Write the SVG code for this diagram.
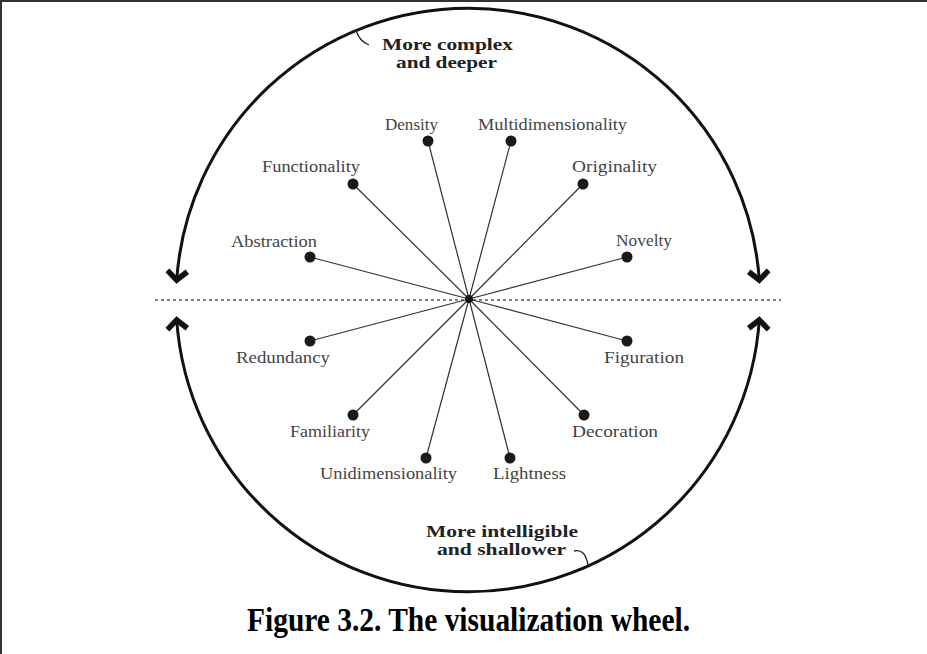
<svg xmlns="http://www.w3.org/2000/svg" width="927" height="654" viewBox="0 0 927 654">
<style>
.lbl{font-family:"Liberation Serif","Times New Roman",serif;font-size:16px;fill:#444}
.bold{font-family:"Liberation Serif","Times New Roman",serif;font-size:17px;font-weight:bold;fill:#222}
.cap{font-family:"Liberation Serif","Times New Roman",serif;font-size:33px;font-weight:bold;fill:#000}
.spoke{stroke:#333;stroke-width:1.2}
.dot{fill:#1a1a1a}
.arc{fill:none;stroke:#111;stroke-width:3}
.hook{fill:none;stroke:#222;stroke-width:1.3}
</style>
<defs>
<marker id="chev" markerUnits="userSpaceOnUse" orient="auto-start-reverse" refX="0" refY="0" markerWidth="30" markerHeight="30" viewBox="-15 -15 30 30" overflow="visible">
<path d="M-9,-10 L0,0 L-9,10" fill="none" stroke="#111" stroke-width="5.5" stroke-linejoin="miter"/>
</marker>
</defs>
<rect x="0" y="0" width="927" height="654" fill="#fff"/>
<path d="M1,654 V1 H927" fill="none" stroke="#333" stroke-width="2"/>

<g id="connectors">
<line x1="155" y1="300" x2="781" y2="300" stroke="#555" stroke-width="1.5" stroke-dasharray="3 3"/>
<path class="arc" d="M176.7,280 A292,292 0 0 1 759.3,280" marker-start="url(#chev)" marker-end="url(#chev)"/>
<path class="arc" d="M176.7,320 A292,292 0 0 0 759.3,320" marker-start="url(#chev)" marker-end="url(#chev)"/>
<path class="hook" d="M356,30 Q359,41 369,45"/>
<path class="hook" d="M574,551 Q585,548 588,565"/>
<line class="spoke" x1="469" y1="299" x2="428" y2="141"/>
<line class="spoke" x1="469" y1="299" x2="511" y2="141"/>
<line class="spoke" x1="469" y1="299" x2="583" y2="184"/>
<line class="spoke" x1="469" y1="299" x2="627" y2="257"/>
<line class="spoke" x1="469" y1="299" x2="353" y2="184"/>
<line class="spoke" x1="469" y1="299" x2="310" y2="257"/>
<line class="spoke" x1="469" y1="299" x2="310" y2="341"/>
<line class="spoke" x1="469" y1="299" x2="627" y2="341"/>
<line class="spoke" x1="469" y1="299" x2="353" y2="415"/>
<line class="spoke" x1="469" y1="299" x2="584" y2="415"/>
<line class="spoke" x1="469" y1="299" x2="426" y2="458"/>
<line class="spoke" x1="469" y1="299" x2="510" y2="458"/>
</g>

<g id="center"><circle cx="469" cy="299" r="4" fill="#111"/></g>

<g id="density"><circle class="dot" cx="428" cy="141" r="5.5"/><text class="lbl" x="385" y="130" textLength="53" lengthAdjust="spacingAndGlyphs">Density</text></g>
<g id="multidimensionality"><circle class="dot" cx="511" cy="141" r="5.5"/><text class="lbl" x="478" y="130" textLength="149" lengthAdjust="spacingAndGlyphs">Multidimensionality</text></g>
<g id="originality"><circle class="dot" cx="583" cy="184" r="5.5"/><text class="lbl" x="572" y="172" textLength="85" lengthAdjust="spacingAndGlyphs">Originality</text></g>
<g id="novelty"><circle class="dot" cx="627" cy="257" r="5.5"/><text class="lbl" x="616" y="246" textLength="56" lengthAdjust="spacingAndGlyphs">Novelty</text></g>
<g id="functionality"><circle class="dot" cx="353" cy="184" r="5.5"/><text class="lbl" x="262" y="172" textLength="98" lengthAdjust="spacingAndGlyphs">Functionality</text></g>
<g id="abstraction"><circle class="dot" cx="310" cy="257" r="5.5"/><text class="lbl" x="231" y="247" textLength="86" lengthAdjust="spacingAndGlyphs">Abstraction</text></g>
<g id="redundancy"><circle class="dot" cx="310" cy="341" r="5.5"/><text class="lbl" x="236" y="363" textLength="94" lengthAdjust="spacingAndGlyphs">Redundancy</text></g>
<g id="figuration"><circle class="dot" cx="627" cy="341" r="5.5"/><text class="lbl" x="604" y="363" textLength="80" lengthAdjust="spacingAndGlyphs">Figuration</text></g>
<g id="familiarity"><circle class="dot" cx="353" cy="415" r="5.5"/><text class="lbl" x="290" y="437" textLength="80" lengthAdjust="spacingAndGlyphs">Familiarity</text></g>
<g id="decoration"><circle class="dot" cx="584" cy="415" r="5.5"/><text class="lbl" x="572" y="437" textLength="86" lengthAdjust="spacingAndGlyphs">Decoration</text></g>
<g id="unidimensionality"><circle class="dot" cx="426" cy="458" r="5.5"/><text class="lbl" x="320" y="479" textLength="137" lengthAdjust="spacingAndGlyphs">Unidimensionality</text></g>
<g id="lightness"><circle class="dot" cx="510" cy="458" r="5.5"/><text class="lbl" x="493" y="479" textLength="73" lengthAdjust="spacingAndGlyphs">Lightness</text></g>

<g id="top-label">
<text class="bold" x="382" y="50" textLength="131" lengthAdjust="spacingAndGlyphs">More complex</text>
<text class="bold" x="396" y="68" textLength="101" lengthAdjust="spacingAndGlyphs">and deeper</text>
</g>
<g id="bottom-label">
<text class="bold" x="426" y="537" textLength="152" lengthAdjust="spacingAndGlyphs">More intelligible</text>
<text class="bold" x="437" y="555" textLength="129" lengthAdjust="spacingAndGlyphs">and shallower</text>
</g>

<text class="cap" x="247" y="631" textLength="443" lengthAdjust="spacingAndGlyphs">Figure 3.2. The visualization wheel.</text>
</svg>
